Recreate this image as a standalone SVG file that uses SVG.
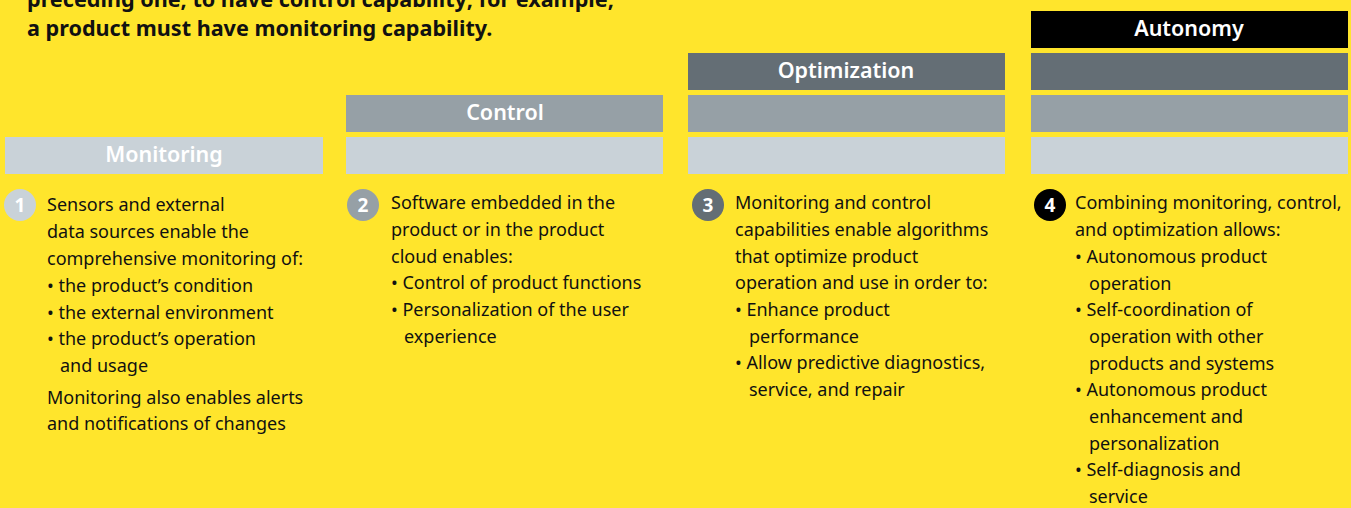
<svg xmlns="http://www.w3.org/2000/svg" width="1351" height="508" viewBox="0 0 1351 508">
<style>
.bg{fill:#FFE52C}
.l{fill:#C9D2D8}.m{fill:#96A0A6}.d{fill:#646E75}.k{fill:#000}
.bl{font-family:"Noto Sans","Liberation Sans",sans-serif;font-weight:600;font-size:21.5px;fill:#fff;text-anchor:middle}
.hd{font-family:"Noto Sans","Liberation Sans",sans-serif;font-weight:bold;font-size:21.6px;fill:#111}
.t{font-family:"Noto Sans","Liberation Sans",sans-serif;font-size:18px;fill:#111}
.n{font-family:"Noto Sans","Liberation Sans",sans-serif;font-weight:bold;font-size:19px;fill:#fff;text-anchor:middle}
</style>
<rect class="bg" x="0" y="0" width="1351" height="508"/>
<g id="header">
<text class="hd" x="27" y="7">preceding one, to have control capability; for example,</text>
<text class="hd" x="27" y="36">a product must have monitoring capability.</text>
</g>
<g id="monitoring">
<rect class="l" x="5" y="137" width="318" height="37"/>
<text class="bl" x="164" y="162">Monitoring</text>
<circle class="l" cx="20" cy="205" r="16"/>
<text class="n" x="20" y="212">1</text>
<text class="t" x="47" y="211">Sensors and external</text>
<text class="t" x="47" y="238">data sources enable the</text>
<text class="t" x="47" y="265">comprehensive monitoring of:</text>
<text class="t" x="47" y="292">• the product’s condition</text>
<text class="t" x="47" y="319">• the external environment</text>
<text class="t" x="47" y="345">• the product’s operation</text>
<text class="t" x="60" y="372">and usage</text>
<text class="t" x="47" y="404">Monitoring also enables alerts</text>
<text class="t" x="47" y="430">and notifications of changes</text>
</g>
<g id="control">
<rect class="m" x="346" y="95" width="317" height="37"/>
<rect class="l" x="346" y="137" width="317" height="37"/>
<text class="bl" x="505" y="120">Control</text>
<circle class="m" cx="363" cy="205" r="16"/>
<text class="n" x="363" y="212">2</text>
<text class="t" x="391" y="209">Software embedded in the</text>
<text class="t" x="391" y="236">product or in the product</text>
<text class="t" x="391" y="263">cloud enables:</text>
<text class="t" x="391" y="289">• Control of product functions</text>
<text class="t" x="391" y="316">• Personalization of the user</text>
<text class="t" x="404" y="343">experience</text>
</g>
<g id="optimization">
<rect class="d" x="688" y="53" width="317" height="37"/>
<rect class="m" x="688" y="95" width="317" height="37"/>
<rect class="l" x="688" y="137" width="317" height="37"/>
<text class="bl" x="846" y="78">Optimization</text>
<circle class="d" cx="708" cy="205" r="16"/>
<text class="n" x="708" y="212">3</text>
<text class="t" x="735" y="209">Monitoring and control</text>
<text class="t" x="735" y="236">capabilities enable algorithms</text>
<text class="t" x="735" y="263">that optimize product</text>
<text class="t" x="735" y="289">operation and use in order to:</text>
<text class="t" x="735" y="316">• Enhance product</text>
<text class="t" x="749" y="343">performance</text>
<text class="t" x="735" y="369">• Allow predictive diagnostics,</text>
<text class="t" x="749" y="396">service, and repair</text>
</g>
<g id="autonomy">
<rect class="k" x="1031" y="11" width="317" height="37"/>
<rect class="d" x="1031" y="53" width="317" height="37"/>
<rect class="m" x="1031" y="95" width="317" height="37"/>
<rect class="l" x="1031" y="137" width="317" height="37"/>
<text class="bl" x="1189" y="36">Autonomy</text>
<circle class="k" cx="1050" cy="205" r="16"/>
<text class="n" x="1050" y="212">4</text>
<text class="t" x="1075" y="209">Combining monitoring, control,</text>
<text class="t" x="1075" y="236">and optimization allows:</text>
<text class="t" x="1075" y="263">• Autonomous product</text>
<text class="t" x="1089" y="290">operation</text>
<text class="t" x="1075" y="316">• Self-coordination of</text>
<text class="t" x="1089" y="343">operation with other</text>
<text class="t" x="1089" y="370">products and systems</text>
<text class="t" x="1075" y="396">• Autonomous product</text>
<text class="t" x="1089" y="423">enhancement and</text>
<text class="t" x="1089" y="450">personalization</text>
<text class="t" x="1075" y="476">• Self-diagnosis and</text>
<text class="t" x="1089" y="503">service</text>
</g>
<g id="connectors"></g>
</svg>
